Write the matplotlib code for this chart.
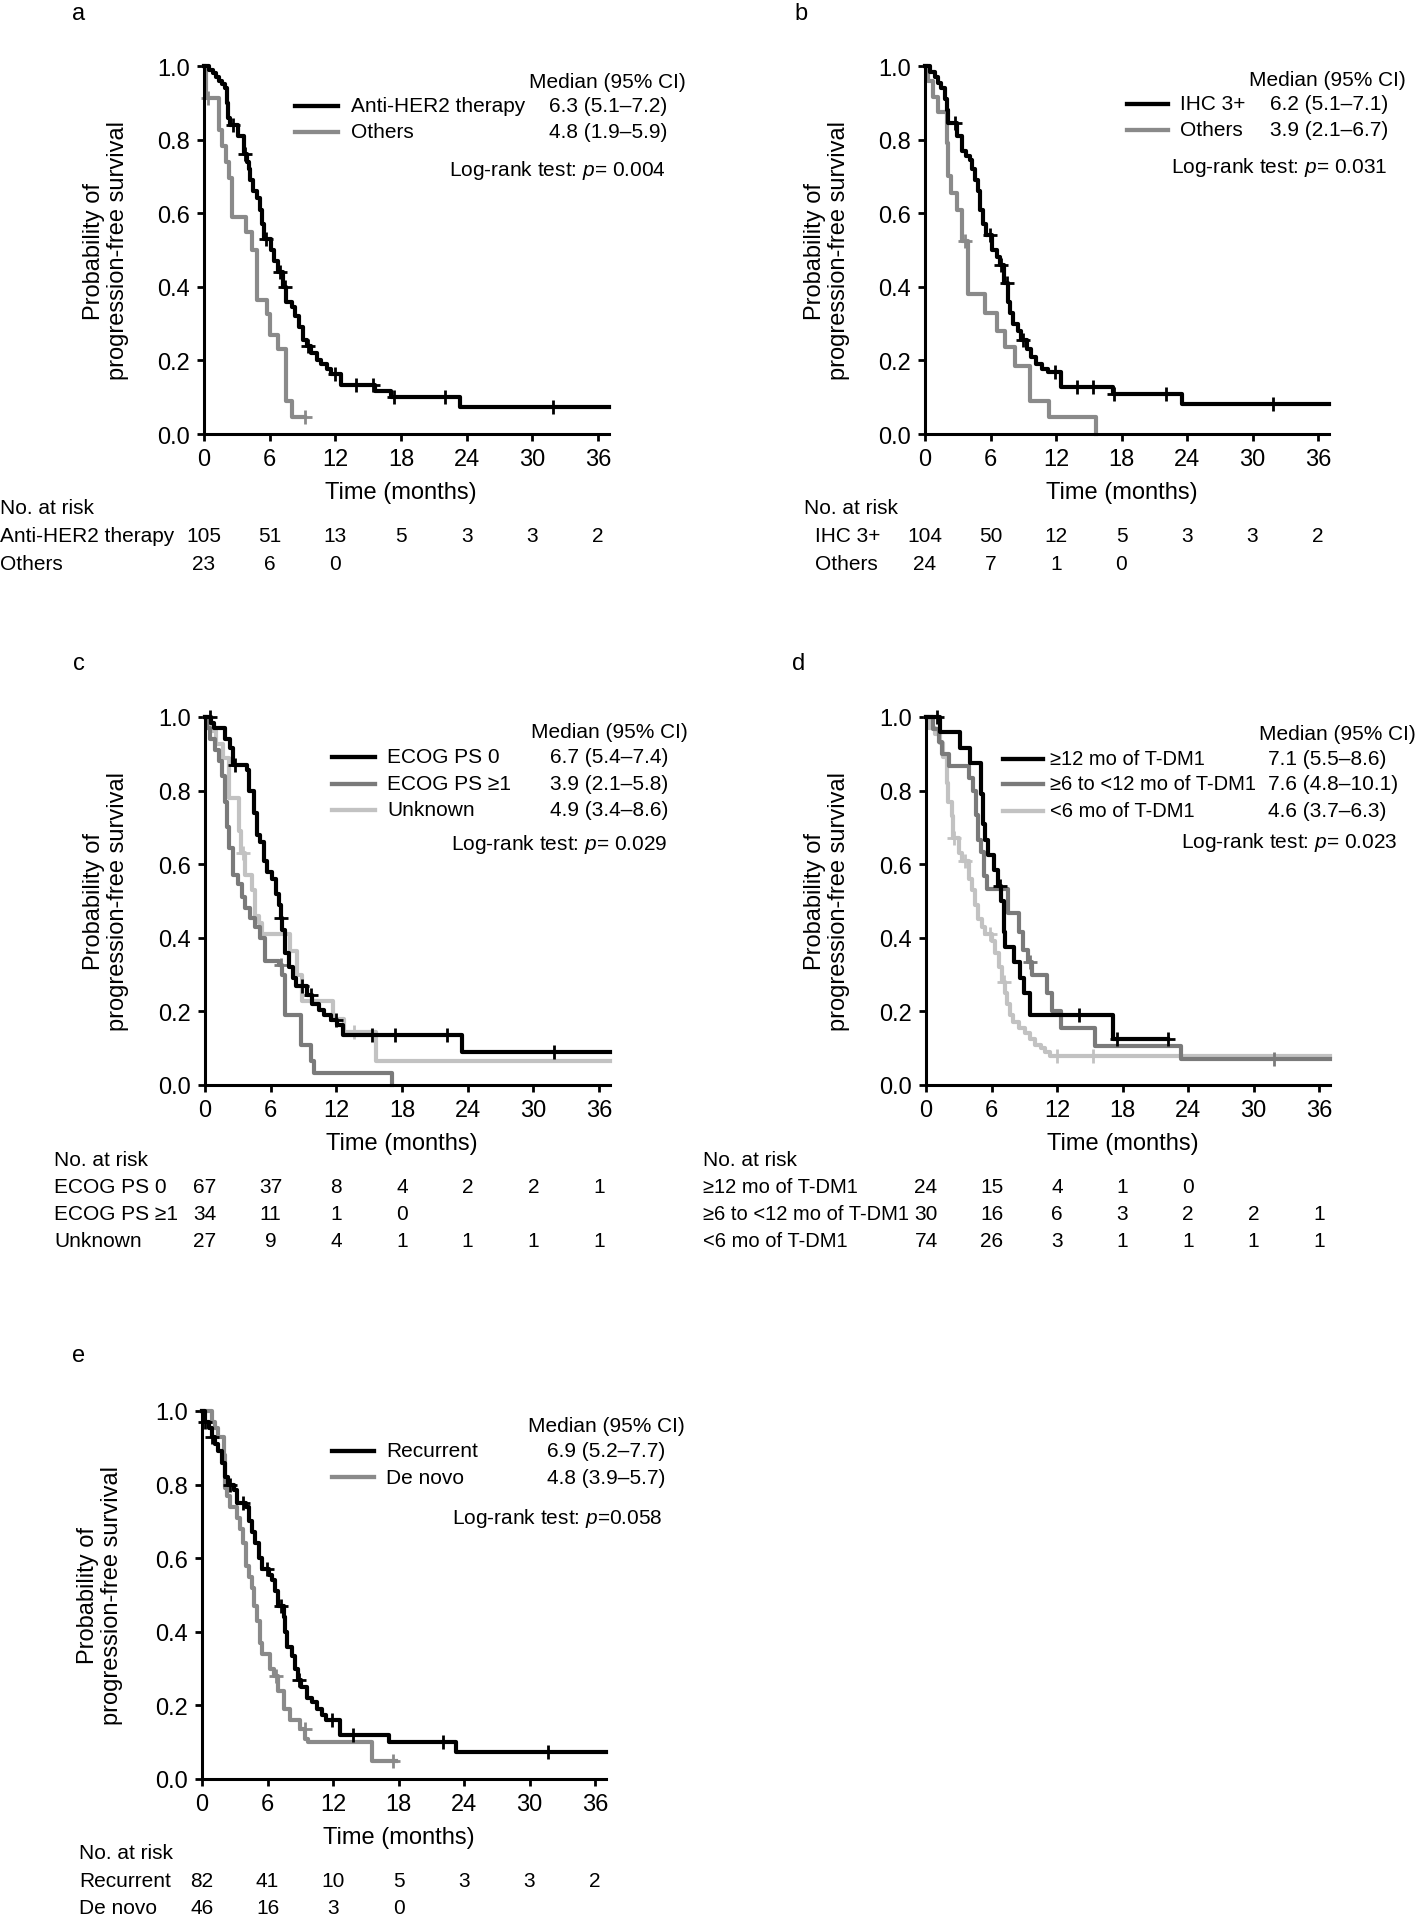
import numpy as np
import matplotlib
matplotlib.use('Agg')
import matplotlib.pyplot as plt
from matplotlib.lines import Line2D
from matplotlib.transforms import blended_transform_factory as blend

plt.rcParams['font.family'] = ['Liberation Sans', 'DejaVu Sans']
plt.rcParams['mathtext.fontset'] = 'custom'
plt.rcParams['mathtext.it'] = 'Liberation Sans:italic'
plt.rcParams['mathtext.rm'] = 'Liberation Sans'

W, H = 1418, 1915
BLACK = '#000000'
GRAY = '#8a8a8a'
DARK = '#7a7a7a'
LIGHT = '#c2c2c2'

risk_months = [0, 6, 12, 18, 24, 30, 36]

# ---------------- panel a: anti-HER2 therapy ----------------
a1_t = [0, 0.5, 0.8, 1.1, 1.4, 1.6, 1.9, 2.1, 2.2, 2.4, 3.1, 3.7, 3.9, 4.1, 4.2, 4.5, 4.8, 5.1, 5.3, 5.5,
        6.1, 6.4, 6.8, 7.2, 7.5, 8.0, 8.3, 8.7, 9.0, 9.4, 9.8, 10.3, 10.7, 11.2, 11.6, 12.5, 15.6, 17.1, 23.4]
a1_s = [1.0, 0.99, 0.98, 0.97, 0.96, 0.95, 0.94, 0.90, 0.86, 0.84, 0.81, 0.76, 0.74, 0.72, 0.69, 0.66, 0.64, 0.61, 0.57, 0.53,
        0.50, 0.47, 0.44, 0.40, 0.36, 0.345, 0.32, 0.29, 0.255, 0.24, 0.22, 0.20, 0.19, 0.177, 0.164, 0.132, 0.118, 0.10, 0.073]
a1_cens = [2.65, 3.75, 5.7, 6.9, 7.4, 9.5, 11.95, 13.9, 15.45, 17.4, 22.0, 31.9]
a1_end = 37
a2_t = [0, 0.2, 1.4, 1.6, 2.0, 2.3, 2.6, 3.8, 4.4, 4.8, 5.8, 6.0, 6.8, 7.5, 8.0]
a2_s = [1.0, 0.913, 0.826, 0.783, 0.739, 0.696, 0.59, 0.55, 0.50, 0.364, 0.327, 0.268, 0.232, 0.091, 0.045]
a2_cens = [0.4, 9.2]
a2_end = 9.2
a_labels = ['Anti-HER2 therapy', 'Others']
a_medians = ['6.3 (5.1–7.2)', '4.8 (1.9–5.9)']
a_p = 'Log-rank test: $p$= 0.004'
a_risk = [[105, 51, 13, 5, 3, 3, 2], [23, 6, 0]]

# ---------------- panel b: IHC ----------------
b1_t = [0, 0.5, 0.9, 1.2, 1.5, 1.8, 2.0, 2.1, 2.9, 3.35, 3.8, 4.1, 4.3, 4.6, 4.9, 5.0, 5.3, 5.6, 6.1, 6.55,
        6.85, 7.2, 7.6, 7.8, 8.1, 8.5, 8.8, 9.3, 9.75, 10.2, 10.7, 11.3, 12.5, 17.2, 23.5]
b1_s = [1.0, 0.985, 0.97, 0.955, 0.94, 0.91, 0.88, 0.845, 0.81, 0.77, 0.755, 0.745, 0.72, 0.69, 0.66, 0.61, 0.57, 0.54, 0.50, 0.48,
        0.46, 0.41, 0.36, 0.33, 0.30, 0.28, 0.255, 0.23, 0.21, 0.19, 0.177, 0.168, 0.127, 0.11, 0.082]
b1_cens = [2.75, 5.95, 7.0, 7.5, 9.0, 11.9, 13.9, 15.4, 17.3, 22.1, 31.9]
b1_end = 37
b2_t = [0, 0.3, 0.7, 1.2, 2.0, 2.1, 2.4, 2.9, 3.4, 3.95, 5.5, 6.55, 7.3, 8.2, 9.6, 11.4, 15.7]
b2_s = [1.0, 0.958, 0.917, 0.875, 0.79, 0.70, 0.655, 0.61, 0.525, 0.38, 0.33, 0.28, 0.236, 0.186, 0.09, 0.045, 0.0]
b2_cens = [3.7]
b2_end = 15.7
b_labels = ['IHC 3+', 'Others']
b_medians = ['6.2 (5.1–7.1)', '3.9 (2.1–6.7)']
b_p = 'Log-rank test: $p$= 0.031'
b_risk = [[104, 50, 12, 5, 3, 3, 2], [24, 7, 1, 0]]

# ---------------- panel c: ECOG PS ----------------
c1_t = [0, 0.55, 0.8, 1.85, 2.3, 2.6, 3.85, 4.0, 4.45, 4.75, 5.05, 5.35, 5.65, 6.1, 6.45, 6.75, 6.9, 7.05, 7.35, 7.65,
        8.0, 8.3, 9.35, 9.8, 10.4, 10.9, 11.5, 12.1, 12.6, 23.5]
c1_s = [1.0, 0.985, 0.97, 0.94, 0.915, 0.87, 0.855, 0.80, 0.74, 0.68, 0.66, 0.61, 0.58, 0.56, 0.52, 0.49, 0.455, 0.42, 0.36, 0.32,
        0.29, 0.27, 0.245, 0.22, 0.205, 0.19, 0.177, 0.164, 0.136, 0.09]
c1_cens = [0.45, 2.75, 6.9, 8.9, 9.65, 12.0, 15.3, 17.4, 22.1, 31.9]
c1_end = 37
c2_t = [0, 0.15, 0.45, 0.9, 1.25, 1.55, 1.85, 2.0, 2.15, 2.6, 3.05, 3.35, 3.7, 4.15, 4.6, 5.05, 5.5, 6.75, 7.05, 7.35,
        8.75, 9.65, 9.95, 17.1]
c2_s = [1.0, 0.97, 0.94, 0.91, 0.88, 0.84, 0.77, 0.70, 0.645, 0.57, 0.545, 0.51, 0.48, 0.455, 0.43, 0.40, 0.336, 0.327, 0.30, 0.19,
        0.11, 0.064, 0.032, 0.0]
c2_cens = [6.9]
c2_end = 17.1
c3_t = [0, 0.5, 1.0, 1.6, 2.15, 3.1, 3.25, 3.7, 4.3, 4.6, 4.9, 5.2, 7.8, 8.4, 8.9, 11.65, 12.7, 15.6]
c3_s = [1.0, 0.963, 0.926, 0.889, 0.78, 0.69, 0.63, 0.57, 0.53, 0.46, 0.44, 0.41, 0.364, 0.30, 0.227, 0.18, 0.145, 0.065]
c3_cens = [3.45, 13.6]
c3_end = 37
c_labels = ['ECOG PS 0', 'ECOG PS ≥1', 'Unknown']
c_medians = ['6.7 (5.4–7.4)', '3.9 (2.1–5.8)', '4.9 (3.4–8.6)']
c_p = 'Log-rank test: $p$= 0.029'
c_risk = [[67, 37, 8, 4, 2, 2, 1], [34, 11, 1, 0], [27, 9, 4, 1, 1, 1, 1]]

# ---------------- panel d: prior T-DM1 duration ----------------
d1_t = [0, 1.3, 3.1, 4.05, 5.0, 5.2, 5.4, 5.7, 6.2, 6.6, 6.9, 7.1, 7.25, 8.1, 8.6, 9.0, 9.5, 17.1]
d1_s = [1.0, 0.958, 0.917, 0.875, 0.792, 0.708, 0.667, 0.625, 0.583, 0.542, 0.5, 0.417, 0.375, 0.333, 0.292, 0.25, 0.19, 0.125]
d1_cens = [1.0, 6.75, 14.0, 17.5, 22.2]
d1_end = 22.2
d2_t = [0, 0.6, 1.2, 1.5, 2.1, 3.9, 4.35, 4.6, 4.75, 5.0, 5.3, 5.6, 7.5, 8.5, 8.9, 9.3, 9.7, 11.1, 11.5, 12.4, 15.5, 23.4]
d2_s = [1.0, 0.967, 0.933, 0.9, 0.867, 0.833, 0.8, 0.733, 0.667, 0.633, 0.567, 0.533, 0.467, 0.417, 0.367, 0.333, 0.30,
        0.25, 0.20, 0.155, 0.105, 0.07]
d2_cens = [9.5, 31.9]
d2_end = 37
d3_t = [0, 0.25, 0.85, 1.3, 1.6, 1.9, 2.05, 2.4, 2.5, 3.0, 3.3, 3.9, 4.2, 4.5, 4.8, 5.1, 5.4, 6.0, 6.3, 6.65,
        6.95, 7.25, 7.4, 7.7, 8.0, 8.5, 9.1, 9.5, 10.0, 10.5, 10.9, 11.4]
d3_s = [1.0, 0.97, 0.955, 0.93, 0.89, 0.82, 0.77, 0.73, 0.67, 0.63, 0.61, 0.56, 0.53, 0.49, 0.45, 0.43, 0.41, 0.39, 0.36, 0.32,
        0.28, 0.25, 0.22, 0.19, 0.17, 0.155, 0.14, 0.125, 0.11, 0.10, 0.09, 0.078]
d3_cens = [2.6, 3.6, 5.9, 7.1, 12.0, 15.3]
d3_end = 37
d_labels = ['≥12 mo of T-DM1', '≥6 to <12 mo of T-DM1', '<6 mo of T-DM1']
d_medians = ['7.1 (5.5–8.6)', '7.6 (4.8–10.1)', '4.6 (3.7–6.3)']
d_p = 'Log-rank test: $p$= 0.023'
d_risk = [[24, 15, 4, 1, 0], [30, 16, 6, 3, 2, 2, 1], [74, 26, 3, 1, 1, 1, 1]]

# ---------------- panel e: recurrent vs de novo ----------------
e1_t = [0, 0.3, 0.6, 0.9, 1.2, 1.5, 1.8, 2.1, 2.4, 2.9, 3.2, 4.0, 4.3, 4.6, 4.9, 5.2, 5.5, 6.1, 6.4, 6.7,
        7.0, 7.5, 7.6, 7.8, 8.2, 8.5, 8.8, 9.1, 9.6, 10.1, 10.5, 11.0, 11.4, 12.65, 17.1, 23.3]
e1_s = [1.0, 0.97, 0.955, 0.93, 0.91, 0.89, 0.86, 0.82, 0.80, 0.785, 0.75, 0.74, 0.70, 0.67, 0.64, 0.60, 0.57, 0.555, 0.54, 0.51,
        0.47, 0.44, 0.40, 0.36, 0.335, 0.30, 0.27, 0.25, 0.22, 0.21, 0.19, 0.175, 0.16, 0.12, 0.10, 0.073]
e1_cens = [0.3, 0.9, 2.6, 3.8, 5.95, 7.2, 8.85, 11.9, 13.8, 22.1, 31.7]
e1_end = 37
e2_t = [0, 0.9, 1.2, 1.5, 2.0, 2.1, 2.3, 2.6, 3.2, 3.5, 3.8, 4.0, 4.3, 4.6, 4.75, 5.0, 5.3, 5.5, 6.25, 6.55,
        7.0, 7.5, 8.1, 9.0, 9.45, 9.75, 15.55]
e2_s = [1.0, 0.97, 0.955, 0.93, 0.88, 0.79, 0.77, 0.74, 0.71, 0.68, 0.64, 0.58, 0.55, 0.52, 0.47, 0.43, 0.37, 0.34, 0.30, 0.28,
        0.24, 0.19, 0.16, 0.135, 0.11, 0.10, 0.05]
e2_cens = [6.8, 9.4, 17.5]
e2_end = 17.8
e_labels = ['Recurrent', 'De novo']
e_medians = ['6.9 (5.2–7.7)', '4.8 (3.9–5.7)']
e_p = 'Log-rank test: $p$=0.058'
e_risk = [[82, 41, 10, 5, 3, 3, 2], [46, 16, 3, 0]]


fig = plt.figure(figsize=(W / 100, H / 100), dpi=100)


def fx(px):
    return px / W


def fy(py):
    return 1 - py / H


def km(ax, t, s, end, cens, color):
    tt = list(t) + [end]
    ss = list(s) + [s[-1]]
    ax.step(tt, ss, where='post', color=color, lw=3.0, clip_on=False)
    idx = np.searchsorted(t, cens, side='right') - 1
    ax.plot(cens, np.array(s)[idx], ls='none', marker='+', ms=10, mew=2,
            color=color, clip_on=False)


def panel(letter, x0, x36, ytop, ybot, ylab_x, series, colors, labels, medians,
          ptext, risk, lg, rk):
    ppm = (x36 - x0) / 36.0
    ax = fig.add_axes([fx(x0), fy(ybot), 37 * ppm / W, (ybot - ytop) / H])
    for (t, s, end, cens), col in reversed(list(zip(series, colors))):
        km(ax, t, s, end, cens, col)
    ax.set_xlim(0, 37)
    ax.set_ylim(0, 1)
    ax.set_xticks(risk_months)
    ax.set_yticks(np.arange(0, 1.01, 0.2))
    ax.set_yticklabels(['%.1f' % v for v in np.arange(0, 1.01, 0.2)])
    for sp in ['top', 'right']:
        ax.spines[sp].set_visible(False)
    for sp in ['left', 'bottom']:
        ax.spines[sp].set_linewidth(2.2)
    ax.tick_params(direction='out', length=5, width=2, labelsize=17, pad=5)
    ax.patch.set_alpha(0)

    fig.text(fx(lg['letter'][0]), fy(lg['letter'][1]), letter, fontsize=17,
             ha='center', va='center')
    fig.text(fx(ylab_x), fy((ytop + ybot) / 2), 'Probability of\nprogression-free survival',
             rotation=90, ha='center', va='center', multialignment='center',
             fontsize=17, linespacing=1.1)
    tr = blend(ax.transData, fig.transFigure)
    ax.text(18, fy(ybot + 58), 'Time (months)', transform=tr, ha='center',
            va='center', fontsize=17)

    # legend block
    lab_fs = lg.get('fs', 15)
    fig.text(fx(lg['head_x']), fy(lg['rows'][0] - 25), 'Median (95% CI)',
             ha='right', va='center', fontsize=15)
    for lab, med, col, ry in zip(labels, medians, colors, lg['rows']):
        fig.add_artist(Line2D([fx(lg['line'][0]), fx(lg['line'][1])], [fy(ry), fy(ry)],
                              transform=fig.transFigure, color=col, lw=3.1))
        fig.text(fx(lg['lab_x']), fy(ry), lab, ha='left', va='center', fontsize=lab_fs)
        fig.text(fx(lg['val_x']), fy(ry), med, ha=lg['val_ha'], va='center', fontsize=15)
    fig.text(fx(lg['p_x']), fy(lg['p_y']), ptext, ha='right', va='center', fontsize=15)

    # number at risk table
    fig.text(fx(rk['x']), fy(ybot + 74), 'No. at risk', ha='left', va='center', fontsize=15)
    for i, (lab, counts) in enumerate(zip(labels, risk)):
        ry = ybot + 102 + 27 * i
        fig.text(fx(rk['lab_x']), fy(ry), lab, ha='left', va='center', fontsize=lab_fs)
        for m, n in zip(risk_months, counts):
            ax.text(m, fy(ry), str(n), transform=tr, ha='center', va='center', fontsize=15)
    return ax


panel('a', 204, 598, 67, 435, 106,
      [(a1_t, a1_s, a1_end, a1_cens), (a2_t, a2_s, a2_end, a2_cens)],
      [BLACK, GRAY], a_labels, a_medians, a_p, a_risk,
      dict(letter=(79, 14), head_x=686, rows=[107, 133], line=(295, 338), lab_x=351,
           val_x=667, val_ha='right', p_x=666, p_y=170),
      dict(x=0, lab_x=0))

panel('b', 925, 1318, 67, 435, 827,
      [(b1_t, b1_s, b1_end, b1_cens), (b2_t, b2_s, b2_end, b2_cens)],
      [BLACK, GRAY], b_labels, b_medians, b_p, b_risk,
      dict(letter=(801, 14), head_x=1406, rows=[105, 131], line=(1127, 1168), lab_x=1180,
           val_x=1388, val_ha='right', p_x=1387, p_y=168),
      dict(x=804, lab_x=815))

panel('c', 205, 599, 718, 1086, 106,
      [(c1_t, c1_s, c1_end, c1_cens), (c2_t, c2_s, c2_end, c2_cens), (c3_t, c3_s, c3_end, c3_cens)],
      [BLACK, DARK, LIGHT], c_labels, c_medians, c_p, c_risk,
      dict(letter=(79, 664), head_x=688, rows=[758, 785, 811], line=(332, 375), lab_x=387,
           val_x=668, val_ha='right', p_x=667, p_y=844),
      dict(x=54, lab_x=54))

panel('d', 926, 1319, 718, 1086, 827,
      [(d1_t, d1_s, d1_end, d1_cens), (d2_t, d2_s, d2_end, d2_cens), (d3_t, d3_s, d3_end, d3_cens)],
      [BLACK, DARK, LIGHT], d_labels, d_medians, d_p, d_risk,
      dict(letter=(799, 664), head_x=1416, rows=[760, 785, 812], line=(1003, 1043), lab_x=1050,
           val_x=1268, val_ha='left', p_x=1397, p_y=843, fs=14.5),
      dict(x=703, lab_x=703))

panel('e', 202, 595, 1412, 1780, 100,
      [(e1_t, e1_s, e1_end, e1_cens), (e2_t, e2_s, e2_end, e2_cens)],
      [BLACK, GRAY], e_labels, e_medians, e_p, e_risk,
      dict(letter=(79, 1356), head_x=685, rows=[1452, 1478], line=(332, 374), lab_x=386,
           val_x=665, val_ha='right', p_x=663, p_y=1518),
      dict(x=79, lab_x=79))

fig.savefig('out.png', dpi=100)
